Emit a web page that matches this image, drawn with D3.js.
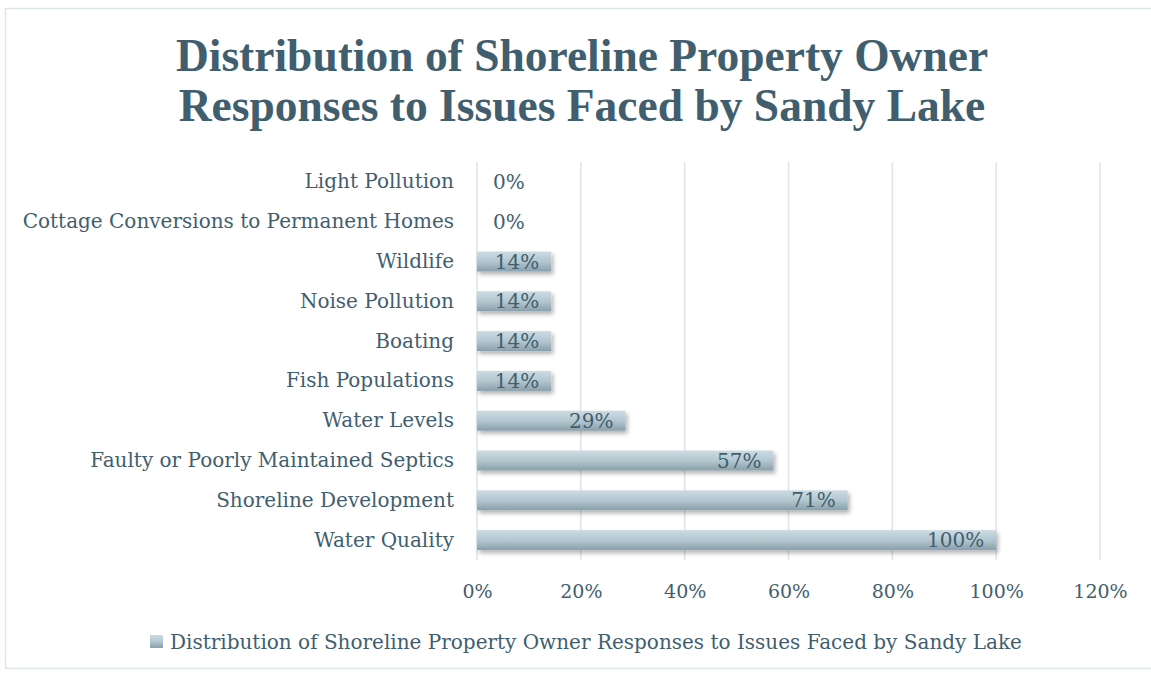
<!DOCTYPE html>
<html>
<head>
<meta charset="utf-8">
<script src="https://cdn.jsdelivr.net/npm/d3@7"></script>
<style>
  body { margin: 0; background: #fff; }
  svg text { font-family: "DejaVu Serif", "Liberation Serif", serif; }
</style>
</head>
<body>
<svg id="chart" width="1151" height="675"></svg>
<script>
// Chart data
const categories = [
    'Light Pollution',
    'Cottage Conversions to Permanent Homes',
    'Wildlife',
    'Noise Pollution',
    'Boating',
    'Fish Populations',
    'Water Levels',
    'Faulty or Poorly Maintained Septics',
    'Shoreline Development',
    'Water Quality'
];
const values = [0, 0, 0.143, 0.143, 0.143, 0.143, 0.286, 0.571, 0.714, 1.0];
const tickValues = [0, 0.2, 0.4, 0.6, 0.8, 1.0, 1.2];
const titleLines = ['Distribution of Shoreline Property Owner', 'Responses to Issues Faced by Sandy Lake'];
const seriesName = 'Distribution of Shoreline Property Owner Responses to Issues Faced by Sandy Lake';

const textColor = '#415e6e';
const gridColor = '#dbe4e9';

const svg = d3.select('#chart');
const margin = { top: 162, right: 51, bottom: 115, left: 477 };
const width = 1151 - margin.left - margin.right;
const height = 675 - margin.top - margin.bottom;

// outer border
svg.append('rect')
    .attr('x', 5.5).attr('y', 8.5)
    .attr('width', 1160).attr('height', 660)
    .attr('fill', 'none')
    .attr('stroke', '#dde5e9')
    .attr('stroke-width', 1.5);

const defs = svg.append('defs');
const grad = defs.append('linearGradient')
    .attr('id', 'barGrad')
    .attr('x1', 0).attr('y1', 0).attr('x2', 0).attr('y2', 1);
grad.append('stop').attr('offset', '0%').attr('stop-color', '#cbdbe3');
grad.append('stop').attr('offset', '50%').attr('stop-color', '#b3c7d0');
grad.append('stop').attr('offset', '100%').attr('stop-color', '#899fa9');

const shadow = defs.append('filter')
    .attr('id', 'shadow')
    .attr('x', '-10%').attr('y', '-30%')
    .attr('width', '130%').attr('height', '190%');
shadow.append('feDropShadow')
    .attr('dx', 2).attr('dy', 3)
    .attr('stdDeviation', 2)
    .attr('flood-color', '#000')
    .attr('flood-opacity', 0.3);

// title
svg.append('text')
    .attr('x', 582)
    .attr('text-anchor', 'middle')
    .style('font-family', '"Liberation Serif", serif')
    .style('font-weight', 'bold')
    .style('font-size', '45.5px')
    .attr('fill', textColor)
    .selectAll('tspan')
    .data(titleLines)
    .join('tspan')
    .attr('x', 582)
    .attr('y', (d, i) => 71 + i * 50)
    .text(d => d);

const g = svg.append('g')
    .attr('transform', `translate(${margin.left},${margin.top})`);

const x = d3.scaleLinear()
    .domain([0, 1.2])
    .range([0, width]);

const y = d3.scaleBand()
    .domain(categories)
    .range([0, height])
    .paddingInner(0.5)
    .paddingOuter(0.25);

// gridlines
g.append('g')
    .selectAll('line')
    .data(tickValues)
    .join('line')
    .attr('x1', d => x(d)).attr('x2', d => x(d))
    .attr('y1', 0).attr('y2', height)
    .attr('stroke', gridColor)
    .attr('stroke-width', 1.5);

// x axis
const xAxis = g.append('g')
    .attr('transform', `translate(0,${height})`)
    .call(d3.axisBottom(x)
        .tickValues(tickValues)
        .tickFormat(d3.format('.0%'))
        .tickSize(0)
        .tickPadding(25));
xAxis.select('.domain').remove();
xAxis.selectAll('text')
    .attr('fill', textColor)
    .style('font-size', '19px');

// y axis
const yAxis = g.append('g')
    .call(d3.axisLeft(y).tickSize(0).tickPadding(23));
yAxis.select('.domain').remove();
yAxis.selectAll('text')
    .attr('fill', textColor)
    .style('font-size', '20px');

// bars
g.append('g')
    .selectAll('rect')
    .data(values.map((v, i) => ({ cat: categories[i], v })).filter(d => d.v > 0))
    .join('rect')
    .attr('x', x(0))
    .attr('y', d => y(d.cat))
    .attr('width', d => x(d.v) - x(0))
    .attr('height', y.bandwidth())
    .attr('fill', 'url(#barGrad)')
    .attr('filter', 'url(#shadow)');

// data labels
const fmt = d3.format('.0%');
g.append('g')
    .selectAll('text')
    .data(values.map((v, i) => ({ cat: categories[i], v })))
    .join('text')
    .attr('y', d => y(d.cat) + y.bandwidth() / 2)
    .attr('dy', '0.35em')
    .attr('fill', textColor)
    .style('font-size', '20px')
    .attr('text-anchor', d => d.v > 0 ? 'end' : 'start')
    .attr('x', d => d.v > 0 ? x(d.v) - 12 : x(0) + 16)
    .text(d => fmt(d.v));

// legend
const legend = svg.append('g')
    .attr('transform', 'translate(150,635)');
legend.append('rect')
    .attr('width', 13).attr('height', 13)
    .attr('fill', 'url(#barGrad)');
legend.append('text')
    .attr('x', 20)
    .attr('y', 7)
    .attr('dy', '0.35em')
    .attr('fill', textColor)
    .style('font-size', '20px')
    .text(seriesName);
</script>
</body>
</html>
